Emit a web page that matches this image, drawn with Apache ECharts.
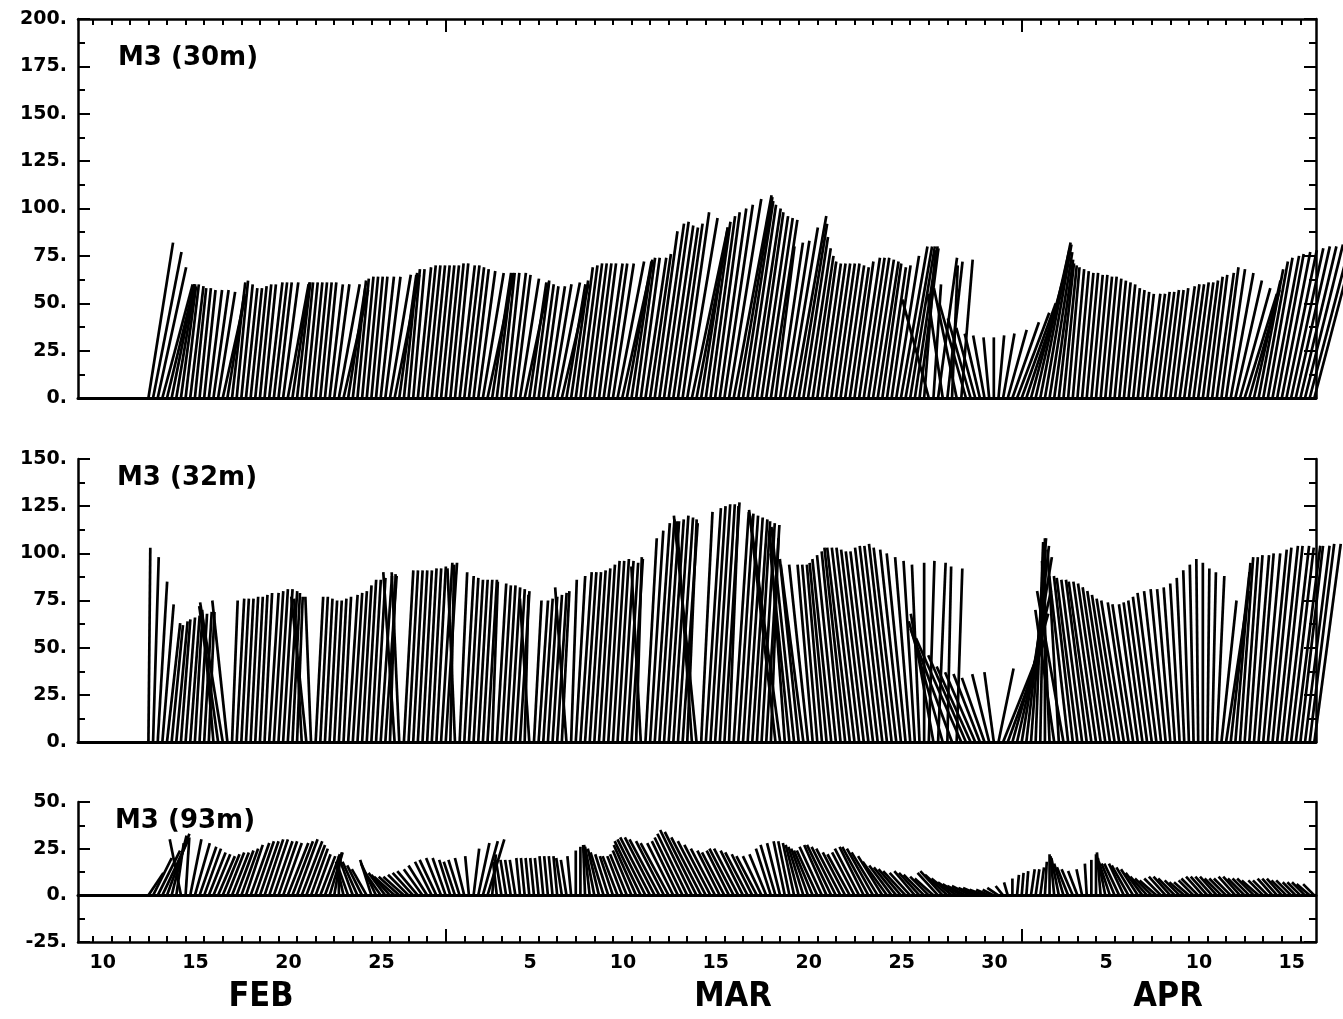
<!DOCTYPE html>
<html>
<head>
<meta charset="utf-8">
<script src="https://cdn.jsdelivr.net/npm/echarts@6/dist/echarts.min.js"></script>
<style>
  html, body { margin: 0; padding: 0; background: #fff; }
  #chart { width: 1343px; height: 1019px; }
</style>
</head>
<body>
<div id="chart"></div>
<script>
// Time is measured in days since 1 Feb 00:00; one current vector every 6 hours from 13 Feb.
const firstSample = 12;
const sampleStep = 0.25;

// M3, 30 m: north component (v) and east component (u), cm/s
const depth30V = [
  82,77,69,60, 58,60,60,59,   // 13-14 Feb
  60,59,58,58, 57,57,57,56,
  54,55,61,62, 60,58,58,59,
  60,60,61,61, 61,61,60,61,
  61,61,61,61, 61,61,61,60,
  60,60,57,58, 62,63,64,64,
  64,64,64,64, 65,65,65,66,
  68,68,69,70, 70,70,70,70,   // 27-28 Feb
  70,71,71,70, 70,69,68,67,   // 1-2 Mar
  66,66,66,66, 66,66,66,65,
  63,62,61,61, 60,59,59,60,
  61,60,60,62, 69,70,71,71,
  71,71,71,71, 71,72,72,72,
  73,74,74,74, 76,88,92,93,
  91,90,92,98, 95,90,89,90,
  93,96,98,100, 102,105,107,106,
  104,102,100,98, 96,95,94,80,
  82,83,90,96, 92,85,79,75,
  72,71,71,71, 71,71,70,69,
  72,74,74,74, 73,72,71,69,
  70,75,80,80, 80,80,79,78,
  52,60,74,55, 72,70,58,73,
  50,42,37,34, 33,32,32,33,   // 29-30 Mar
  34,36,40,45, 50,58,70,79,   // 31 Mar - 1 Apr
  82,81,77,73, 71,70,69,68,
  67,66,66,65, 65,64,64,63,
  62,61,60,58, 57,56,55,55,
  55,56,56,57, 57,58,59,60,
  60,61,61,62, 64,65,66,69,
  68,66,62,58, 55,57,62,68,
  72,74,75,76, 77,78,79,80,
  80,81,80,80                 // 16 Apr
];
const depth30U = [
  13,15,15,16, 14,12,10,8,
  7,7,6,6, 6,7,8,9,
  12,9,7,6, 6,6,6,6,
  6,6,7,7, 7,8,11,9,
  7,6,6,6, 6,6,6,7,
  8,11,13,9, 7,6,6,6,
  6,6,7,8, 11,13,9,7,
  6,6,7,7, 7,7,7,7,
  7,7,7,8, 8,8,8,9,
  11,14,10,8, 7,7,8,8,
  10,13,9,8, 8,8,9,10,
  12,14,10,9, 9,9,9,9,
  9,9,10,10, 11,14,16,13,
  11,10,10,11, 11,12,13,13,
  13,13,13,14, 16,19,17,14,
  13,13,13,14, 15,17,20,18,
  16,15,15,14, 14,14,14,10,
  12,13,15,17, 15,13,12,11,
  10,10,10,10, 10,10,10,10,
  10,11,11,11, 11,11,10,10,
  10,12,14,14, 13,12,10,6,
  -14,4,10,-8, 8,3,-12,6,
  -14,-12,-10,-8, -6,-3,0,3,
  6,10,14,17, 18,19,19,18,
  16,14,12,10, 8,7,6,6,
  6,6,6,6, 6,6,6,6,
  6,6,6,6, 6,6,6,7,
  7,7,7,7, 7,7,8,8,
  8,8,8,8, 8,8,9,9,
  10,12,14,16, 17,16,14,13,
  13,13,14,14, 15,16,17,18,
  19,20,21,21
];

// M3, 32 m
const depth32V = [
  103,98,85,73, 63,62,64,65,
  66,67,67,68, 69,69,70,72,
  74,75,75,76, 76,76,77,77,
  78,79,79,80, 81,81,80,79,
  77,76,77,77, 77,77,76,75,
  75,76,77,78, 79,80,83,86,
  86,87,88,88, 89,90,90,91,
  91,91,91,91, 92,92,93,95,
  95,94,92,90, 88,87,86,86,
  86,86,85,84, 83,83,82,81,
  80,78,76,75, 75,76,77,78,
  79,80,82,86, 88,90,90,90,
  91,92,94,96, 96,97,96,95,
  97,98,93,108, 112,116,118,117,
  118,120,119,116, 118,117,120,122,
  124,125,126,126, 127,125,122,121,
  120,119,118,117, 116,115,108,123,
  120,112,100,114, 97,94,94,94,
  94,94,95,97, 99,101,103,103,
  103,103,102,101, 101,103,104,104,
  105,103,102,100, 98,96,94,95,
  96,68,95,64, 93,60,92,55,
  46,40,37,36, 34,36,37,39,
  45,55,68,80, 98,104,108,106,
  105,108,96,70, 102,80,88,88,
  87,86,86,85, 85,84,82,80,
  78,76,75,74, 73,73,74,75,
  77,79,80,81, 81,82,84,87,
  91,94,97,95, 92,90,88,75,
  80,90,95,98, 98,99,99,100,
  100,102,103,104, 104,104,103,104,
  104,104,105,105
];
const depth32U = [
  1,3,5,6, 7,6,6,5,
  5,5,4,4, 4,3,-6,-10,
  -12,-8,3,4, 4,4,4,4,
  4,4,5,5, 5,5,5,4,
  3,-4,-8,-3, 4,4,4,4,
  4,4,4,5, 5,5,5,5,
  5,5,6,6, 3,-6,-4,5,
  5,5,5,5, 5,5,5,6,
  6,2,-4,4, 5,5,5,5,
  5,5,3,5, 5,5,5,5,
  5,2,-5,4, 5,5,5,5,
  5,4,-6,3, 5,6,6,6,
  6,6,6,6, 6,6,6,6,
  6,3,-5,6, 7,8,8,8,
  8,8,8,8, 5,-8,-12,6,
  8,8,8,8, 8,5,8,8,
  8,8,8,7, 7,7,4,-14,
  -16,-8,-10,-12, -10,-12,-10,-8,
  -8,-8,-9,-10, -10,-10,-11,-12,
  -12,-12,-12,-12, -12,-12,-12,-12,
  -12,-12,-11,-10, -8,-6,-4,0,
  3,-12,4,-18, 2,-22,3,-24,
  -20,-18,-16,-14, -12,-9,-5,8,
  18,20,19,18, 16,12,8,4,
  2,0,-4,-10, -6,-14,-10,-10,
  -11,-11,-11,-12, -12,-12,-12,-12,
  -12,-12,-12,-11, -11,-10,-10,-10,
  -10,-10,-9,-8, -7,-6,-5,-4,
  -3,-2,-1,0, 1,2,4,8,
  12,10,8,7, 7,7,8,8,
  9,10,10,11, 11,12,12,13,
  12,13,13,14
];

// M3, 93 m
const depth93V = [
  12,20,24,30, 33,32,28,30,
  31,30,28,26, 25,23,22,21,
  22,23,23,24, 25,27,28,29,
  29,30,30,29, 29,28,28,29,
  30,29,27,25, 22,21,22,23,
  23,21,18,17, 19,18,16,14,
  19,17,13,12, 11,10,10,10,
  11,12,13,14, 16,18,19,20,
  20,19,18,19, 20,21,25,28,
  29,30,22,18, 19,19,19,19,
  20,20,20,20, 20,21,21,21,
  21,20,19,21, 24,26,27,27,
  26,25,23,22, 21,21,21,22,
  24,27,29,30, 31,31,30,29,
  28,28,29,31, 33,35,34,31,
  29,27,25,24, 23,24,25,25,
  24,23,22,21, 21,22,25,27,
  28,29,29,28, 27,26,25,24,
  24,26,27,27, 26,25,23,22,
  23,25,26,26, 25,23,21,18,
  16,15,14,13, 12,13,12,11,
  10,9,12,13, 11,9,7,6,
  5,5,4,4, 3,3,3,4,
  5,7,9,11, 12,13,14,14,
  15,18,22,21, 20,17,15,14,
  13,14,17,19, 22,23,20,18,
  17,17,17,16, 15,14,12,10,
  9,8,9,10, 10,9,8,7,
  7,8,9,10, 10,10,10,9,
  9,9,10,10, 9,9,9,8,
  8,8,9,9, 9,8,8,7,
  7,7,6,6
];
const depth93U = [
  8,10,12,14, 12,8,4,-6,
  2,6,8,9, 9,9,9,9,
  9,9,9,9, 9,9,10,10,
  10,10,10,10, 10,10,11,11,
  11,11,10,9, 8,8,8,7,
  4,0,-4,-6, -7,-8,-8,-8,
  -6,-8,-9,-9, -10,-11,-11,-11,
  -11,-11,-11,-10, -10,-9,-9,-8,
  -7,-6,-6,-6, -5,-2,3,6,
  8,9,2,-2, -3,-3,-3,-3,
  -2,-2,-2,-2, -2,-2,-2,-2,
  -2,-3,-3,-2, 0,0,-1,-3,
  -5,-6,-7,-7, -7,-8,-8,-9,
  -10,-12,-14,-15, -16,-16,-16,-15,
  -15,-14,-14,-15, -16,-17,-17,-16,
  -15,-14,-13,-12, -12,-12,-13,-13,
  -12,-12,-11,-11, -10,-9,-8,-8,
  -7,-6,-6,-6, -7,-8,-9,-10,
  -11,-12,-12,-13, -13,-13,-12,-12,
  -12,-13,-13,-14, -14,-14,-13,-13,
  -12,-12,-12,-12, -11,-11,-11,-11,
  -10,-10,-11,-12, -12,-11,-10,-10,
  -10,-10,-9,-9, -8,-7,-6,-6,
  -4,-2,0,1, 1,1,2,2,
  2,1,0,-2, -4,-5,-6,-6,
  -5,-3,-1,0, 0,-2,-4,-6,
  -7,-8,-8,-9, -9,-9,-9,-9,
  -9,-9,-9,-9, -9,-9,-8,-8,
  -8,-8,-9,-9, -9,-9,-9,-9,
  -9,-9,-9,-9, -9,-9,-9,-9,
  -8,-8,-8,-8, -8,-8,-8,-7,
  -7,-7,-7,-6
];

// Axis marks (days since 1 Feb 00:00)
const timeMin = 8.21;
const timeMax = 74.84;
const dayTicks = Array.from({ length: 66 }, (_, i) => 9 + i);   // midnight of 10 Feb .. 16 Apr
const monthTicks = [28, 59];                                    // 1 Mar, 1 Apr
const dayLabelValues = [9, 14, 19, 24, 32, 37, 42, 47, 52, 57, 63, 68, 73];
const dayLabelText = ['10', '15', '20', '25', '5', '10', '15', '20', '25', '30', '5', '10', '15'];
const monthNames = ['FEB', 'MAR', 'APR'];
const panelTitles = ['M3 (30m)', 'M3 (32m)', 'M3 (93m)'];

const panels = [
  { u: depth30U, v: depth30V, min: 0, max: 200 },
  { u: depth32U, v: depth32V, min: 0, max: 150 },
  { u: depth93U, v: depth93V, min: -25, max: 50 }
];

const INK = '#000';
const AXIS_W = 2.5;
const STICK_W = 2.7;
const labelFont = { fontFamily: 'DejaVu Sans', fontWeight: 'bold', color: INK };

function stickItem(params, api) {
  const t = api.value(0), u = api.value(1), v = api.value(2);
  const base = api.coord([t, 0]);
  const unit = api.size([1, 1])[1];   // pixels per cm/s, same in both directions
  return {
    type: 'line',
    silent: true,
    shape: { x1: base[0], y1: base[1], x2: base[0] + u * unit, y2: base[1] - v * unit },
    style: { stroke: INK, lineWidth: STICK_W }
  };
}

const grids = [
  { left: 78, right: 27, top: 19, height: 379 },
  { left: 78, right: 27, top: 459, height: 283 },
  { left: 78, right: 27, top: 802, height: 140 }
];

function timeAxis(gridIndex, position, extra) {
  return Object.assign({
    type: 'value', gridIndex, position, min: timeMin, max: timeMax,
    axisLine: { show: true, onZero: false, lineStyle: { color: INK, width: AXIS_W } },
    axisTick: { show: false },
    axisLabel: { show: false },
    splitLine: { show: false }
  }, extra);
}

const tickStyle = { color: INK, width: 2 };

const xAxes = [
  // 0: frame under the 30 m panel
  timeAxis(0, 'bottom', { axisLine: { show: true, onZero: false, lineStyle: { color: INK, width: 3 } } }),
  // 1-2: top frame of the 30 m panel with day and month ticks
  timeAxis(0, 'top', { axisTick: { show: true, inside: true, length: 6, customValues: dayTicks, lineStyle: tickStyle } }),
  timeAxis(0, 'top', { axisLine: { show: false, onZero: false }, axisTick: { show: true, inside: true, length: 13, customValues: monthTicks, lineStyle: tickStyle } }),
  // 3: base of the 32 m panel
  timeAxis(1, 'bottom', { axisLine: { show: true, onZero: false, lineStyle: { color: INK, width: 3 } } }),
  // 4-5: time axis under the 93 m panel
  timeAxis(2, 'bottom', {
    axisTick: { show: true, inside: true, length: 6, customValues: dayTicks, lineStyle: tickStyle },
    axisLabel: Object.assign({
      show: true, fontSize: 19, margin: 12, padding: [0, 0, 0, 20],
      customValues: dayLabelValues,
      formatter: (val) => {
        const k = dayLabelValues.indexOf(Math.round(val));
        return k >= 0 ? dayLabelText[k] : '';
      }
    }, labelFont)
  }),
  timeAxis(2, 'bottom', { axisLine: { show: false, onZero: false }, axisTick: { show: true, inside: true, length: 13, customValues: monthTicks, lineStyle: tickStyle } }),
  // 6: zero line of the 93 m panel
  {
    type: 'value', gridIndex: 2, position: 'bottom', min: timeMin, max: timeMax,
    axisLine: { show: true, onZero: true, lineStyle: { color: INK, width: 3 } },
    axisTick: { show: false }, axisLabel: { show: false }, splitLine: { show: false }
  }
];

const yAxes = [];
panels.forEach((p, gi) => {
  ['left', 'right'].forEach((side) => {
    yAxes.push({
      type: 'value', gridIndex: gi, position: side, min: p.min, max: p.max, interval: 25,
      axisLine: { show: true, onZero: false, lineStyle: { color: INK, width: AXIS_W } },
      axisTick: { show: true, inside: true, length: 12, lineStyle: tickStyle },
      minorTick: { show: true, splitNumber: 2, length: 7, lineStyle: tickStyle },
      splitLine: { show: false },
      axisLabel: Object.assign({
        show: side === 'left', fontSize: 19, margin: 11,
        showMinLabel: true, showMaxLabel: true,
        formatter: (val) => val + '.'
      }, labelFont)
    });
  });
});

const stickXAxis = [0, 3, 4];
const series = panels.map((p, gi) => ({
  type: 'custom',
  xAxisIndex: stickXAxis[gi],
  yAxisIndex: gi * 2,
  clip: false,
  renderItem: stickItem,
  encode: { x: 0, y: 2 },
  data: p.v.map((v, i) => [firstSample + i * sampleStep, p.u[i], v])
}));

const titleFont = 'bold 26px "DejaVu Sans", sans-serif';
const monthFont = 'bold 34px "Liberation Sans Narrow", "DejaVu Sans Condensed", sans-serif';
const titleAnchors = [[118, 58], [117, 478], [115, 821]];
const monthAnchors = [[261, 997], [733, 997], [1168, 997]];

const graphics = [];
panelTitles.forEach((txt, i) => {
  graphics.push({
    type: 'text', x: titleAnchors[i][0], y: titleAnchors[i][1], silent: true,
    style: { text: txt, font: titleFont, fill: INK, align: 'left', verticalAlign: 'middle', textAlign: 'left', textVerticalAlign: 'middle' }
  });
});
monthNames.forEach((txt, i) => {
  graphics.push({
    type: 'text', x: monthAnchors[i][0], y: monthAnchors[i][1], silent: true,
    style: { text: txt, font: monthFont, fill: INK, align: 'center', verticalAlign: 'middle', textAlign: 'center', textVerticalAlign: 'middle' }
  });
});

const chart = echarts.init(document.getElementById('chart'), null, { renderer: 'canvas' });
chart.setOption({
  animation: false,
  backgroundColor: '#fff',
  grid: grids,
  xAxis: xAxes,
  yAxis: yAxes,
  series: series,
  graphic: graphics
});
</script>
</body>
</html>
